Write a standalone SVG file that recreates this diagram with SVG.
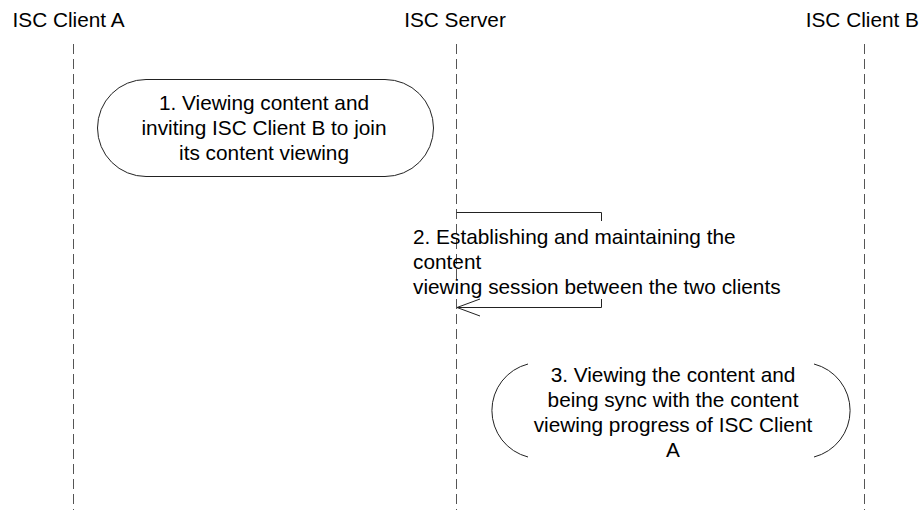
<svg xmlns="http://www.w3.org/2000/svg" width="920" height="510" viewBox="0 0 920 510">
<style>
text{font-family:"Liberation Sans",Arial,sans-serif;font-size:20.8px;fill:#000}
.c{text-anchor:middle}
.e{text-anchor:end}
.life{stroke:#555;stroke-width:1;stroke-dasharray:10 5;fill:none}
.edge{stroke:#222;stroke-width:1;fill:none}
.shape{stroke:#222;stroke-width:1;fill:#fff}
</style>
<rect width="920" height="510" fill="#fff"/>
<g id="lifelines">
<line class="life" x1="73.5" y1="44" x2="73.5" y2="510"/>
<line class="life" x1="456.5" y1="44" x2="456.5" y2="510"/>
<line class="life" x1="864.5" y1="44" x2="864.5" y2="510"/>
</g>
<g id="client-a"><text x="12.5" y="27">ISC Client A</text></g>
<g id="server"><text class="c" x="455" y="27">ISC Server</text></g>
<g id="client-b"><text class="e" x="919" y="27">ISC Client B</text></g>
<g id="node1">
<rect class="shape" x="97.5" y="79.5" width="336" height="97" rx="48.5" ry="48.5"/>
<text class="c" x="264" y="110">1. Viewing content and</text>
<text class="c" x="264" y="135">inviting ISC Client B to join</text>
<text class="c" x="264" y="160">its content viewing</text>
</g>
<g id="connectors">
<polyline class="edge" points="456.5,212.5 601.5,212.5 601.5,221"/>
<polyline class="edge" points="601.5,299 601.5,307.5 457,307.5"/>
<polyline class="edge" points="480,299 457,307.5 480,316"/>
</g>
<g id="node2">
<text x="413" y="244">2. Establishing and maintaining the</text>
<text x="413" y="269">content</text>
<text x="413" y="294">viewing session between the two clients</text>
</g>
<g id="node3">
<path class="edge" d="M528,364 A48,48 0 0 0 528,457"/>
<path class="edge" d="M814,364 A48,48 0 0 1 814,457"/>
<text class="c" x="673" y="382">3. Viewing the content and</text>
<text class="c" x="673" y="407">being sync with the content</text>
<text class="c" x="673" y="432">viewing progress of ISC Client</text>
<text class="c" x="673" y="457">A</text>
</g>
</svg>
